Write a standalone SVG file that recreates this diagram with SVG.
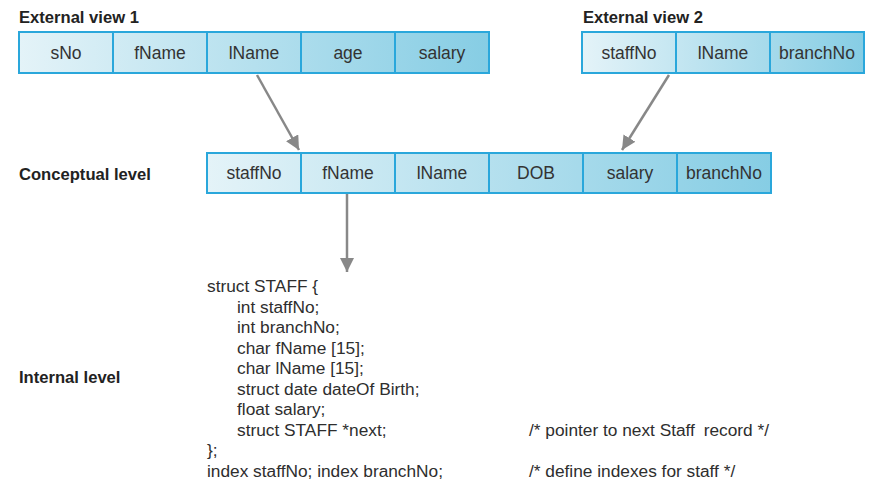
<svg xmlns="http://www.w3.org/2000/svg" width="870" height="493" viewBox="0 0 870 493">
<style>
.title{font-family:"Liberation Sans",Arial,sans-serif;font-weight:bold;font-size:16.6px;fill:#222}
.cell{stroke:#2aa7db;stroke-width:2}
.lbl{font-family:"Liberation Sans",Arial,sans-serif;font-size:17.5px;fill:#333;text-anchor:middle}
.code{font-family:"Liberation Sans",Arial,sans-serif;font-size:17.3px;fill:#2e2e2e}
.conn{stroke:#888;stroke-width:2.5;fill:none}
</style>
<defs>
<linearGradient id="g1" gradientUnits="userSpaceOnUse" x1="19" y1="0" x2="489" y2="0">
<stop offset="0" stop-color="#e4f3f8"/><stop offset="1" stop-color="#86cde4"/>
</linearGradient>
<linearGradient id="g2" gradientUnits="userSpaceOnUse" x1="582" y1="0" x2="864" y2="0">
<stop offset="0" stop-color="#e4f3f8"/><stop offset="1" stop-color="#86cde4"/>
</linearGradient>
<linearGradient id="g3" gradientUnits="userSpaceOnUse" x1="207" y1="0" x2="771" y2="0">
<stop offset="0" stop-color="#e4f3f8"/><stop offset="1" stop-color="#86cde4"/>
</linearGradient>
<marker id="arr" markerUnits="userSpaceOnUse" markerWidth="16" markerHeight="14" refX="14" refY="7" orient="auto">
<path d="M0,0 L14,7 L0,14 Z" fill="#888"/>
</marker>
</defs>

<g id="ext1">
<text class="title" x="19" y="23">External view 1</text>
<rect class="cell" x="19" y="32" width="94" height="41" fill="url(#g1)"/>
<rect class="cell" x="113" y="32" width="94" height="41" fill="url(#g1)"/>
<rect class="cell" x="207" y="32" width="94" height="41" fill="url(#g1)"/>
<rect class="cell" x="301" y="32" width="94" height="41" fill="url(#g1)"/>
<rect class="cell" x="395" y="32" width="94" height="41" fill="url(#g1)"/>
<text class="lbl" x="66" y="59">sNo</text>
<text class="lbl" x="160" y="59">fName</text>
<text class="lbl" x="254" y="59">lName</text>
<text class="lbl" x="348" y="59">age</text>
<text class="lbl" x="442" y="59">salary</text>
</g>

<g id="ext2">
<text class="title" x="583" y="23">External view 2</text>
<rect class="cell" x="582" y="32" width="94" height="41" fill="url(#g2)"/>
<rect class="cell" x="676" y="32" width="94" height="41" fill="url(#g2)"/>
<rect class="cell" x="770" y="32" width="94" height="41" fill="url(#g2)"/>
<text class="lbl" x="629" y="59">staffNo</text>
<text class="lbl" x="723" y="59">lName</text>
<text class="lbl" x="817" y="59">branchNo</text>
</g>

<g id="conceptual">
<text class="title" x="19" y="180">Conceptual level</text>
<rect class="cell" x="207" y="153" width="94" height="40" fill="url(#g3)"/>
<rect class="cell" x="301" y="153" width="94" height="40" fill="url(#g3)"/>
<rect class="cell" x="395" y="153" width="94" height="40" fill="url(#g3)"/>
<rect class="cell" x="489" y="153" width="94" height="40" fill="url(#g3)"/>
<rect class="cell" x="583" y="153" width="94" height="40" fill="url(#g3)"/>
<rect class="cell" x="677" y="153" width="94" height="40" fill="url(#g3)"/>
<text class="lbl" x="254" y="179">staffNo</text>
<text class="lbl" x="348" y="179">fName</text>
<text class="lbl" x="442" y="179">lName</text>
<text class="lbl" x="536" y="179">DOB</text>
<text class="lbl" x="630" y="179">salary</text>
<text class="lbl" x="724" y="179">branchNo</text>
</g>

<g id="internal">
<text class="title" x="19" y="383">Internal level</text>
<text class="code" x="207" y="292">struct STAFF {</text>
<text class="code" x="237" y="312.5">int staffNo;</text>
<text class="code" x="237" y="333">int branchNo;</text>
<text class="code" x="237" y="353.5">char fName [15];</text>
<text class="code" x="237" y="374">char lName [15];</text>
<text class="code" x="237" y="394.5">struct date dateOf Birth;</text>
<text class="code" x="237" y="415">float salary;</text>
<text class="code" x="237" y="435.5">struct STAFF *next;</text>
<text class="code" x="529" y="435.5">/* pointer to next Staff <tspan dx="4">record */</tspan></text>
<text class="code" x="207" y="456">};</text>
<text class="code" x="207" y="476.5">index staffNo; index branchNo;</text>
<text class="code" x="529" y="476.5">/* define indexes for staff */</text>
</g>

<g id="connectors">
<line class="conn" x1="257" y1="75" x2="299" y2="150" marker-end="url(#arr)"/>
<line class="conn" x1="669" y1="75" x2="622" y2="150" marker-end="url(#arr)"/>
<line class="conn" x1="347" y1="194" x2="347" y2="272" marker-end="url(#arr)"/>
</g>
</svg>
